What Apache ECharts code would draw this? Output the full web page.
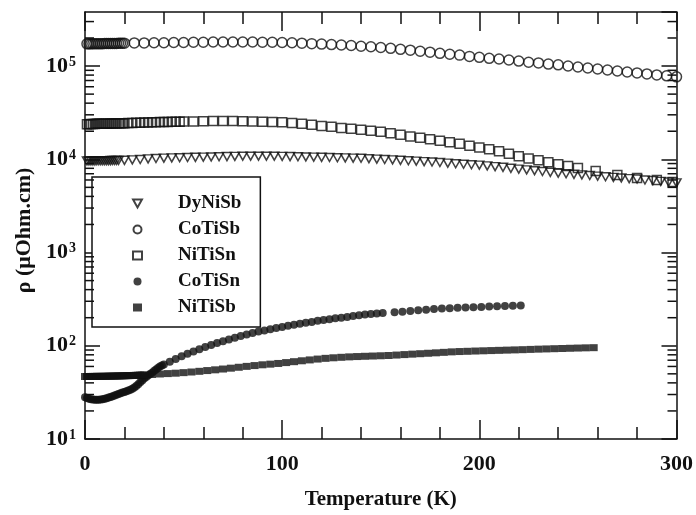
<!DOCTYPE html>
<html>
<head>
<meta charset="utf-8">
<script src="https://cdn.jsdelivr.net/npm/echarts@6.0.0/dist/echarts.min.js"></script>
<style>
  html, body { margin: 0; padding: 0; background: #fff; }
  #chart { width: 696px; height: 515px; }
</style>
</head>
<body>
<div id="chart"></div>
<script>
// resistivity (uOhm.cm) vs temperature (K)
var seriesNames = ['DyNiSb', 'CoTiSb', 'NiTiSn', 'CoTiSn', 'NiTiSb']

var dyNiSb = [
  [1, 9600], [2, 9600], [3, 9600], [4, 9620], [5, 9620], [6, 9640], [7, 9640], [8, 9650], [9, 9650],
  [10, 9660], [11, 9670], [12, 9680], [13, 9690], [14, 9700], [15, 9710], [16, 9720], [17, 9730],
  [20, 9750], [24, 9850], [28, 9950], [32, 10100], [36, 10200], [40, 10300], [44, 10350], [48, 10400],
  [52, 10450], [56, 10500], [60, 10550], [64, 10600], [68, 10650], [72, 10700], [76, 10750], [80, 10800],
  [84, 10800], [88, 10800], [92, 10800], [96, 10800], [100, 10750], [104, 10700], [108, 10650], [112, 10600],
  [116, 10550], [120, 10500], [124, 10450], [128, 10400], [132, 10350], [136, 10300], [140, 10250], [144, 10150],
  [148, 10050], [152, 9950], [156, 9850], [160, 9750], [164, 9650], [168, 9550], [172, 9450], [176, 9350],
  [180, 9250], [184, 9100], [188, 8950], [192, 8850], [196, 8750], [200, 8650], [204, 8500], [208, 8350],
  [212, 8200], [216, 8000], [220, 7850], [224, 7700], [228, 7550], [232, 7400], [236, 7250], [240, 7100],
  [244, 7000], [248, 6900], [252, 6800], [256, 6700], [260, 6600], [264, 6500], [268, 6400], [272, 6300],
  [276, 6200], [280, 6150], [284, 6000], [288, 5900], [292, 5800], [296, 5700], [300, 5580]
]

var coTiSb = [
  [1, 173000], [2, 173000], [3, 173000], [4, 174000], [5, 174000], [6, 174000], [7, 174000], [8, 174000],
  [9, 174000], [10, 175000], [11, 175000], [12, 175000], [13, 175000], [14, 175000], [15, 175000],
  [16, 175000], [17, 176000], [18, 176000], [19, 176000], [20, 176000],
  [25, 177000], [30, 177000], [35, 178000], [40, 178000], [45, 179000], [50, 179000], [55, 180000],
  [60, 180000], [65, 181000], [70, 181000], [75, 181000], [80, 181000], [85, 181000], [90, 180000],
  [95, 180000], [100, 179000], [105, 178000], [110, 176000], [115, 174000], [120, 172000], [125, 170000],
  [130, 168000], [135, 166000], [140, 163000], [145, 161000], [150, 158000], [155, 155000], [160, 151000],
  [165, 148000], [170, 144000], [175, 141000], [180, 137000], [185, 134000], [190, 131000], [195, 127000],
  [200, 124000], [205, 121000], [210, 119000], [215, 116000], [220, 113000], [225, 110000], [230, 108000],
  [235, 105000], [240, 103000], [245, 100000], [250, 97600], [255, 95300], [260, 93000], [265, 90700],
  [270, 88500], [275, 86400], [280, 84400], [285, 82400], [290, 80400], [295, 78500], [300, 76600]
]

var niTiSn = [
  [1, 23800], [2, 23800], [3, 23900], [4, 23900], [5, 23900], [6, 24000], [7, 24000], [8, 24000],
  [9, 24000], [10, 24100], [11, 24100], [12, 24100], [13, 24200], [14, 24200], [15, 24200], [16, 24300],
  [17, 24300], [18, 24300], [19, 24400], [20, 24400],
  [22, 24500], [24, 24550], [26, 24600], [28, 24700], [30, 24800], [32, 24850], [34, 24900], [36, 25000],
  [38, 25050], [40, 25100], [42, 25150], [44, 25200], [46, 25300], [48, 25350], [50, 25400],
  [55, 25500], [60, 25600], [65, 25700], [70, 25700], [75, 25700], [80, 25600], [85, 25500], [90, 25300],
  [95, 25100], [100, 24900], [105, 24500], [110, 24000], [115, 23400], [120, 22800], [125, 22300],
  [130, 21700], [135, 21200], [140, 20700], [145, 20200], [150, 19700], [155, 19000], [160, 18300],
  [165, 17600], [170, 17000], [175, 16400], [180, 15800], [185, 15200], [190, 14700], [195, 14000],
  [200, 13400], [205, 12800], [210, 12200], [215, 11500], [220, 10800], [225, 10200], [230, 9750],
  [235, 9300], [240, 8850], [245, 8450], [250, 8050], [259, 7500], [270, 6800], [280, 6300],
  [290, 6000], [298, 5700]
]

var coTiSn = [
  [0, 28], [1, 27.5], [2, 27], [3, 26.7], [4, 26.5], [5, 26.4], [6, 26.3], [7, 26.4], [8, 26.5],
  [9, 26.7], [10, 27], [11, 27.4], [12, 27.8], [13, 28.3], [14, 28.8], [15, 29.3], [16, 29.8],
  [17, 30.4], [18, 31], [19, 31.5], [20, 32], [21, 32.6], [22, 33.2], [23, 33.8], [24, 34.5],
  [25, 35.7], [26, 37], [27, 38.7], [28, 40.5], [29, 42.5], [30, 44.5], [31, 46.2], [32, 48],
  [33, 49.7], [34, 51.5], [35, 53.5], [36, 55.5], [37, 57.7], [38, 60], [39, 61.5], [40, 63],
  [43, 67.5], [46, 72], [49, 77], [52, 82], [55, 87], [58, 92], [61, 97], [64, 102], [67, 107],
  [70, 112], [73, 117], [76, 122], [79, 127], [82, 132], [85, 137], [88, 142], [91, 146], [94, 150],
  [97, 155], [100, 159], [103, 164], [106, 168], [109, 172], [112, 176], [115, 180], [118, 185],
  [121, 189], [124, 193], [127, 197], [130, 200], [133, 204], [136, 208], [139, 212], [142, 216],
  [145, 219], [148, 222], [151, 225],
  [157, 229], [161, 232], [165, 236], [169, 240], [173, 244], [177, 248], [181, 251], [185, 253],
  [189, 255], [193, 257], [197, 259], [201, 261], [205, 263], [209, 265], [213, 267], [217, 269],
  [221, 271]
]

var niTiSb = [
  [0, 46.8], [1, 46.8], [2, 46.8], [3, 46.9], [4, 46.9], [5, 46.9], [6, 47], [7, 47], [8, 47],
  [9, 47], [10, 47.1], [11, 47.1], [12, 47.2], [13, 47.2], [14, 47.3], [15, 47.3], [16, 47.4],
  [17, 47.5], [18, 47.5], [19, 47.6], [20, 47.7], [21, 47.8], [22, 47.8], [23, 47.9], [24, 48],
  [25, 48.1], [26, 48.2], [27, 48.3], [28, 48.4], [29, 48.5], [30, 48.6],
  [34, 49.2], [38, 49.8], [42, 50.3], [46, 50.8], [50, 51.5], [54, 52.3], [58, 53.2], [62, 54.2],
  [66, 55.2], [70, 56.3], [74, 57.5], [78, 58.8], [82, 60.1], [86, 61.3], [90, 62.5], [94, 63.5],
  [98, 64.6], [102, 66], [106, 67.5], [110, 69], [114, 70.5], [118, 72], [122, 73.3], [126, 74.3],
  [130, 75.2], [134, 76], [138, 76.6], [142, 77.1], [146, 77.6], [150, 78.1], [154, 78.6], [158, 79.5],
  [162, 80.4], [166, 81.3], [170, 82.2], [174, 83.1], [178, 84], [182, 85], [186, 86], [190, 86.7],
  [194, 87.2], [198, 87.8], [202, 88.3], [206, 88.8], [210, 89.3], [214, 89.8], [218, 90.3], [222, 90.8],
  [226, 91.4], [230, 92], [234, 92.5], [238, 93], [242, 93.5], [246, 94], [250, 94.5], [254, 95],
  [258, 95.4]
]

var tempMin = 0
var tempMax = 300
var tempStep = 100
var rhoMin = 10
var rhoMax = 380000
var decades = [10, 100, 1000, 10000, 100000]
var minorSteps = [2, 3, 4, 5, 6, 7, 8, 9]

var serif = 'Liberation Serif'
var ink = '#111'

// minor ticks of the log axis at 2..9 x 10^n
var minorTickData = []
decades.forEach(function (d) {
  minorSteps.forEach(function (m) {
    if (d * m <= rhoMax) minorTickData.push([tempMin, d * m])
  })
})

var chart = echarts.init(document.getElementById('chart'))

function decadeLabel(v) {
  var l = Math.log10(v)
  var e = Math.round(l)
  if (Math.abs(l - e) > 0.01) return ''
  return '{b|10}{s|' + e + '}'
}

function xAxisCfg(pos, withLabels) {
  return {
    type: 'value',
    position: pos,
    min: tempMin,
    max: tempMax,
    interval: tempStep,
    name: withLabels ? 'Temperature (K)' : '',
    nameLocation: 'middle',
    nameGap: 50,
    nameTextStyle: { fontFamily: serif, fontWeight: 'bold', fontSize: 21, color: ink },
    axisLine: { show: true, onZero: false, lineStyle: { color: ink, width: 1.5 } },
    axisTick: { show: true, inside: true, length: 19, lineStyle: { color: ink, width: 1.5 } },
    minorTick: { show: true, splitNumber: 5, length: 12, lineStyle: { color: ink, width: 1.5 } },
    axisLabel: {
      show: withLabels, margin: 14, fontFamily: serif, fontWeight: 'bold', fontSize: 22, color: ink
    },
    splitLine: { show: false }
  }
}

function yAxisCfg(pos, withLabels) {
  return {
    type: 'log',
    logBase: 10,
    position: pos,
    min: rhoMin,
    max: rhoMax,
    name: withLabels ? 'ρ (μOhm.cm)' : '',
    nameLocation: 'middle',
    nameGap: 46,
    nameTextStyle: {
      fontFamily: serif, fontWeight: 'bold', fontSize: 22, color: ink, padding: [0, 10, 0, 0]
    },
    axisLine: { show: true, onZero: false, lineStyle: { color: ink, width: 1.5 } },
    axisTick: { show: true, inside: true, length: 15, lineStyle: { color: ink, width: 1.5 } },
    minorTick: { show: false },
    axisLabel: {
      show: withLabels,
      margin: 9,
      showMaxLabel: false,
      formatter: decadeLabel,
      rich: {
        b: { fontFamily: serif, fontWeight: 'bold', fontSize: 22, color: ink },
        s: { fontFamily: serif, fontWeight: 'bold', fontSize: 14, color: ink, verticalAlign: 'top', padding: [0, 0, 8, 1] }
      }
    },
    splitLine: { show: false }
  }
}

var openStyle = { color: 'transparent', borderColor: ink, borderWidth: 1.5 }
var fillStyle = { color: ink, borderColor: ink, borderWidth: 0 }

chart.setOption({
  animation: false,
  backgroundColor: '#fff',
  grid: { left: 85, right: 18, top: 12, bottom: 68 },
  legend: {
    data: seriesNames,
    orient: 'vertical',
    left: 92,
    top: 177,
    padding: [17, 19, 10, 40],
    itemGap: 7,
    itemWidth: 9,
    itemHeight: 8,
    borderColor: ink,
    borderWidth: 1.5,
    backgroundColor: '#fff',
    textStyle: {
      fontFamily: serif, fontWeight: 'bold', fontSize: 19, color: ink,
      lineHeight: 18, padding: [0, 0, 0, 31]
    }
  },
  xAxis: [xAxisCfg('bottom', true), xAxisCfg('top', false)],
  yAxis: [yAxisCfg('left', true), yAxisCfg('right', false)],
  series: [
    {
      name: 'DyNiSb', type: 'scatter', data: dyNiSb,
      symbol: 'path://M0,0 L10,0 L5,9 Z', symbolSize: [9, 8], itemStyle: openStyle
    },
    {
      name: 'CoTiSb', type: 'scatter', data: coTiSb,
      symbol: 'circle', symbolSize: 10, itemStyle: openStyle
    },
    {
      name: 'NiTiSn', type: 'scatter', data: niTiSn,
      symbol: 'rect', symbolSize: 9, itemStyle: openStyle
    },
    {
      name: 'CoTiSn', type: 'scatter', data: coTiSn,
      symbol: 'circle', symbolSize: 8, itemStyle: fillStyle
    },
    {
      name: 'NiTiSb', type: 'scatter', data: niTiSb,
      symbol: 'rect', symbolSize: [8, 7], itemStyle: fillStyle
    },
    {
      // short inside ticks on the left and right frame
      type: 'custom',
      silent: true,
      clip: false,
      z: 5,
      data: minorTickData,
      renderItem: function (params, api) {
        var v = api.value(1)
        var pl = api.coord([tempMin, v])
        var pr = api.coord([tempMax, v])
        return {
          type: 'group',
          children: [
            { type: 'line', shape: { x1: pl[0], y1: pl[1], x2: pl[0] + 9, y2: pl[1] }, style: { stroke: ink, lineWidth: 1.5 } },
            { type: 'line', shape: { x1: pr[0] - 9, y1: pr[1], x2: pr[0], y2: pr[1] }, style: { stroke: ink, lineWidth: 1.5 } }
          ]
        }
      }
    }
  ]
})
</script>
</body>
</html>
